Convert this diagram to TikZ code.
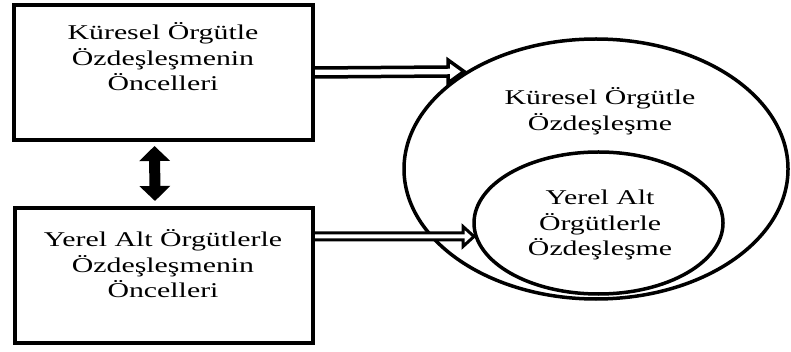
\documentclass[tikz,border=0pt]{standalone}
\usepackage{fontspec}
\setmainfont{Liberation Serif}[FakeStretch=1.42]
\usetikzlibrary{shapes.geometric,arrows.meta}

\begin{document}
\begin{tikzpicture}[x=1pt,y=-1pt,
  box/.style={draw, line width=4pt, rectangle, inner sep=0pt},
  oval/.style={draw, line width=3.5pt, ellipse, inner sep=0pt},
  label/.style={align=center, font=\fontsize{21}{25.5}\selectfont, inner sep=0pt},
  hollowarrow/.style={draw, fill=white, line width=3.5pt, line join=miter, miter limit=4},
  bothways/.style={line width=11pt, {Triangle[width=30pt,length=15pt]}-{Triangle[width=30pt,length=15pt]}}
]
\useasboundingbox (0,0) rectangle (791,352);

% antecedent boxes
\node[box, minimum width=299pt, minimum height=135pt] (top) at (163.5,72.5) {};
\node[box, minimum width=298pt, minimum height=135pt] (bot) at (164,275.5) {};
\node[label] (topText) at (163,57) {Küresel Örgütle\\Özdeşleşmenin\\Öncelleri};
\node[label] (botText) at (163,264) {Yerel Alt Örgütlerle\\Özdeşleşmenin\\Öncelleri};

% identification ellipses
\node[oval, minimum width=384pt, minimum height=260pt] (big) at (596,169) {};
\node[oval, minimum width=249pt, minimum height=142pt] (small) at (598.5,223) {};
\node[label] (bigText) at (600,111) {Küresel Örgütle\\Özdeşleşme};
\node[label] (smallText) at (600,225) {Yerel Alt\\Örgütlerle\\Özdeşleşme};

% two-way link between the antecedents
\draw[bothways] ([xshift=-9pt,yshift=-4pt]top.south) -- ([xshift=-9pt,yshift=5pt]bot.north);

% hollow arrows into the ellipses
\coordinate (h1) at (448,71.5);
\coordinate (a1) at (464,71.5);
\draw[hollowarrow] ([yshift=4.5pt]top.east) -- ([yshift=4.5pt]h1) -- ([yshift=11.5pt]h1)
  -- (a1) -- ([yshift=-11.5pt]h1) -- ([yshift=-4.5pt]h1) -- ([yshift=-4.5pt]top.east);

\coordinate (h2) at (463,236.5);
\coordinate (a2) at (474,236.5);
\coordinate (s2u) at (463,233);
\coordinate (s2d) at (463,240);
\draw[hollowarrow, line width=3pt] (bot.east |- s2u) -- (s2u) -- ([yshift=10pt]h2)
  -- (a2) -- ([yshift=-10pt]h2) -- (s2d) -- (bot.east |- s2d);
\end{tikzpicture}
\end{document}
